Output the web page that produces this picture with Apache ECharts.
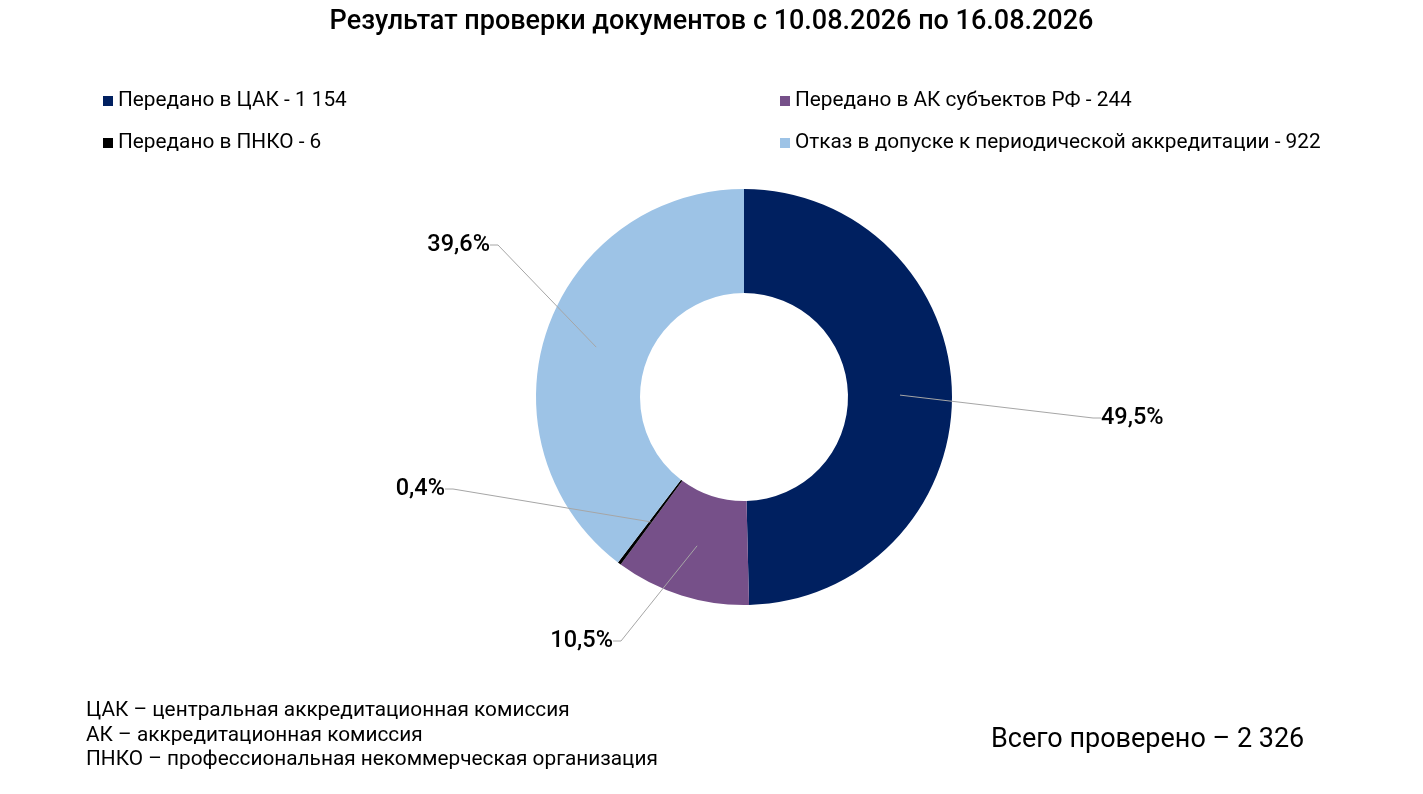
<!DOCTYPE html>
<html>
<head>
<meta charset="utf-8">
<script src="https://cdn.jsdelivr.net/npm/echarts@6/dist/echarts.min.js"></script>
<style>
html,body{margin:0;padding:0;background:#fff;}
#chart{width:1423px;height:794px;}
</style>
</head>
<body>
<div id="chart"></div>
<script>
const categories = ['Передано в ЦАК', 'Передано в АК субъектов РФ', 'Передано в ПНКО', 'Отказ в допуске к периодической аккредитации'];
const values = [1154, 244, 6, 922];
const percentLabels = ['49,5%', '10,5%', '0,4%', '39,6%'];
const colors = ['#002060', '#765089', '#000000', '#9DC3E6'];
const totalChecked = 2326;
const footnotes = ['ЦАК – центральная аккредитационная комиссия', 'АК – аккредитационная комиссия', 'ПНКО – профессиональная некоммерческая организация'];

const labelPos = [
  {x: 1101, y: 418, align: 'left'},
  {x: 613, y: 641, align: 'right'},
  {x: 445, y: 489, align: 'right'},
  {x: 490, y: 245, align: 'right'}
];

function fmt(n){ return String(n).replace(/\B(?=(\d{3})+(?!\d))/g, ' '); }

const FONT = 'Roboto';
const chart = echarts.init(document.getElementById('chart'));

const mainData = categories.map((c, i) => ({name: c, value: values[i], itemStyle: {color: colors[i]}}));
const labelData = categories.map((c, i) => ({name: c, value: values[i], itemStyle: {color: 'rgba(0,0,0,0)'}}));

function legendFor(names, left) {
  return {
    data: names,
    left: left,
    top: 84,
    orient: 'vertical',
    itemWidth: 10,
    itemHeight: 10,
    itemGap: 18,
    icon: 'rect',
    selectedMode: false,
    textStyle: {fontFamily: FONT, fontSize: 20.8, color: '#000', lineHeight: 24},
    formatter: function(name){ return name + ' - ' + fmt(values[categories.indexOf(name)]); }
  };
}

chart.setOption({
  backgroundColor: '#fff',
  animation: false,
  title: {
    text: 'Результат проверки документов с 10.08.2026 по 16.08.2026',
    left: 'center',
    top: 4,
    textStyle: {fontFamily: FONT, fontSize: 27, fontWeight: 500, color: '#000'}
  },
  legend: [
    legendFor([categories[0], categories[2]], 98),
    legendFor([categories[1], categories[3]], 775)
  ],
  series: [
    {
      type: 'pie',
      center: [744, 397],
      radius: [104, 208],
      startAngle: 90,
      clockwise: true,
      silent: true,
      z: 2,
      label: {show: false},
      labelLine: {show: false},
      emphasis: {disabled: true},
      data: mainData
    },
    {
      type: 'pie',
      center: [744, 397],
      radius: [0, 156],
      startAngle: 90,
      clockwise: true,
      silent: true,
      z: 5,
      emphasis: {disabled: true},
      label: {
        show: true,
        position: 'outside',
        fontFamily: FONT,
        fontSize: 23.5,
        fontWeight: 500,
        color: '#000',
        formatter: function(p){ return percentLabels[p.dataIndex]; }
      },
      labelLine: {show: true, length: 10, length2: 8, lineStyle: {color: '#a6a6a6', width: 1}},
      labelLayout: function(p){
        const lp = labelPos[p.dataIndex];
        return {x: lp.x, y: lp.y, align: lp.align, verticalAlign: 'middle', moveOverlap: null, hideOverlap: false};
      },
      data: labelData
    }
  ],
  graphic: [
    {
      type: 'text',
      left: 86,
      top: 699,
      style: {
        text: footnotes.join('\n'),
        fontFamily: FONT,
        fontSize: 20.8,
        lineHeight: 24.5,
        fill: '#000'
      }
    },
    {
      type: 'text',
      left: 991,
      top: 727,
      style: {
        text: 'Всего проверено – ' + fmt(totalChecked),
        fontFamily: FONT,
        fontSize: 27,
        fill: '#000'
      }
    }
  ]
});
</script>
</body>
</html>
